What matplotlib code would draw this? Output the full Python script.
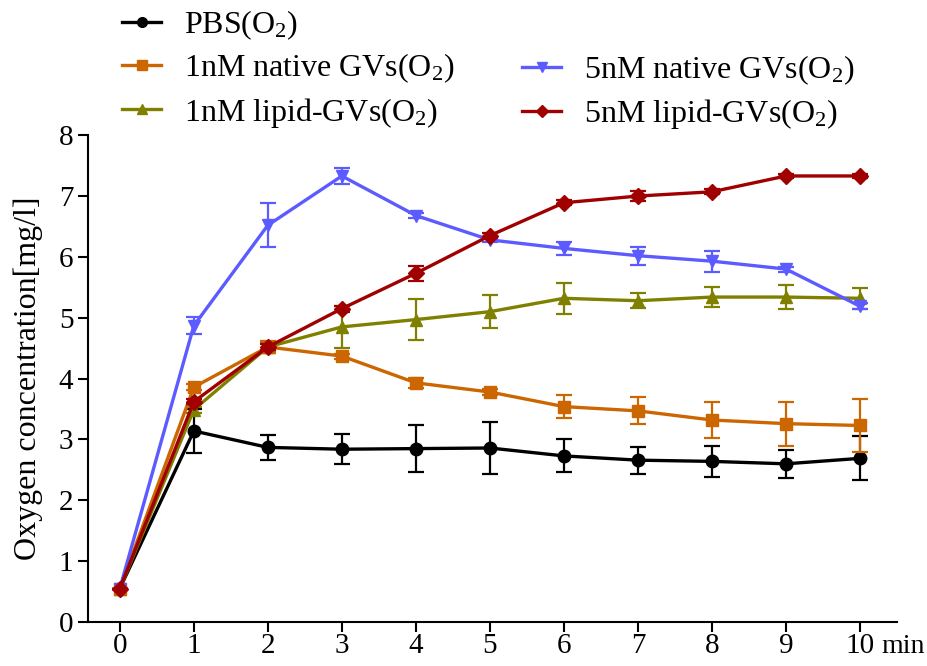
import matplotlib
matplotlib.use("Agg")
import matplotlib.pyplot as plt
from matplotlib.lines import Line2D
import numpy as np

plt.rcParams['font.family'] = 'Liberation Serif'
plt.rcParams['mathtext.fontset'] = 'custom'
plt.rcParams['mathtext.rm'] = 'Liberation Serif'
plt.rcParams['mathtext.it'] = 'Liberation Serif:italic'

t = [0, 1, 2, 3, 4, 5, 6, 7, 8, 9, 10]

pbs = [0.55, 3.14, 2.87, 2.84, 2.85, 2.86, 2.73, 2.66, 2.64, 2.60, 2.69]
pbs_err = [0.0, 0.36, 0.20, 0.25, 0.38, 0.42, 0.27, 0.22, 0.25, 0.23, 0.36]

native1 = [0.55, 3.86, 4.52, 4.37, 3.93, 3.78, 3.54, 3.47, 3.32, 3.26, 3.23]
native1_err = [0.0, 0.05, 0.10, 0.04, 0.08, 0.05, 0.19, 0.22, 0.30, 0.36, 0.43]

lipid1 = [0.55, 3.49, 4.52, 4.85, 4.97, 5.10, 5.32, 5.28, 5.34, 5.34, 5.32]
lipid1_err = [0.0, 0.05, 0.08, 0.34, 0.34, 0.27, 0.25, 0.12, 0.17, 0.20, 0.17]

native5 = [0.55, 4.87, 6.52, 7.33, 6.68, 6.28, 6.14, 6.02, 5.93, 5.80, 5.19]
native5_err = [0.0, 0.14, 0.36, 0.13, 0.04, 0.04, 0.11, 0.15, 0.17, 0.04, 0.05]

lipid5 = [0.55, 3.62, 4.52, 5.15, 5.73, 6.35, 6.89, 7.00, 7.07, 7.33, 7.33]
lipid5_err = [0.0, 0.04, 0.05, 0.05, 0.12, 0.04, 0.04, 0.08, 0.04, 0.04, 0.04]

fig = plt.figure(figsize=(9.28, 6.66), dpi=100)
ax = fig.add_axes([0.0948, 0.066, 0.8718, 0.731])

series = [
    (pbs, pbs_err, 'black', 'o', 'PBS(O$_2$)', 1),
    (lipid1, lipid1_err, '#808000', '^', '1nM lipid-GVs(O$_2$)', 2),
    (native1, native1_err, '#CC6600', 's', '1nM native GVs(O$_2$)', 3),
    (native5, native5_err, '#5B5BFF', 'v', '5nM native GVs(O$_2$)', 4),
    (lipid5, lipid5_err, '#A00000', 'D', '5nM lipid-GVs(O$_2$)', 5),
]
handles = {}
for y, e, c, m, lab, z in series:
    ms = 8 if m == 'D' else 9
    ax.errorbar(t, y, yerr=e, color=c, marker=m, markersize=ms, lw=2.4,
                elinewidth=1.6, capsize=6, capthick=1.6, zorder=z)
    handles[lab] = Line2D([], [], color=c, marker=m, markersize=ms - 2, lw=2.4)

ax.set_xlim(-0.43, 10.5)
ax.set_ylim(0, 8)
ax.set_xticks(t)
ax.set_yticks(range(0, 9))
ax.spines['top'].set_visible(False)
ax.spines['right'].set_visible(False)
ax.spines['left'].set_linewidth(1.5)
ax.spines['bottom'].set_linewidth(1.5)
ax.tick_params(direction='out', length=7, width=1.5, labelsize=21)
ax.tick_params(axis='x', pad=1)
ax.set_ylabel('Oxygen concentration[mg/l]', fontsize=23, labelpad=11)
ax.text(10.29, -0.4, 'min', fontsize=20, ha='left', va='center')

left = ['PBS(O$_2$)', '1nM native GVs(O$_2$)', '1nM lipid-GVs(O$_2$)']
right = ['5nM native GVs(O$_2$)', '5nM lipid-GVs(O$_2$)']
kw = dict(frameon=False, fontsize=23, handlelength=1.25, handletextpad=0.7,
          labelspacing=0.32, borderaxespad=0, borderpad=0)
fig.legend([handles[k] for k in left], left, loc='upper left',
           bbox_to_anchor=(0.131, 0.988), **kw)
fig.legend([handles[k] for k in right], right, loc='upper left',
           bbox_to_anchor=(0.562, 0.920), **kw)

fig.savefig('out.png', dpi=100)
